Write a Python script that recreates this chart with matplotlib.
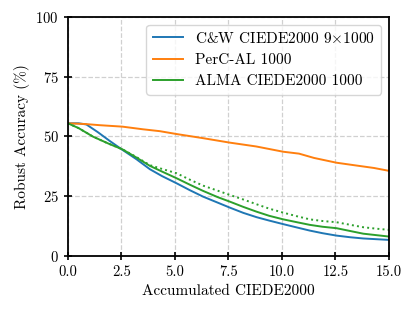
import numpy as np
import matplotlib
matplotlib.use("Agg")
import matplotlib.pyplot as plt

plt.rcParams['font.family'] = 'serif'
plt.rcParams['font.serif'] = ['cmr10']
plt.rcParams['mathtext.fontset'] = 'cm'
plt.rcParams['axes.formatter.use_mathtext'] = True
plt.rcParams['axes.unicode_minus'] = False

# values
cw_x = [0.0, 0.5, 0.87, 1.4, 1.96, 2.55, 3.2, 3.83, 4.4, 5.08, 5.7, 6.32, 7.0, 7.57, 8.2, 8.82, 9.4, 10.06, 10.7, 11.3, 11.9, 12.55, 13.2, 13.8, 14.4, 15.0]
cw_y = [55.5, 55.5, 55.0, 51.8, 48.1, 44.4, 40.5, 36.3, 33.4, 30.4, 27.5, 24.8, 22.3, 20.2, 18.0, 16.2, 14.8, 13.3, 11.9, 10.6, 9.5, 8.5, 7.8, 7.3, 7.0, 6.7]

perc_x = [0.0, 0.8, 1.5, 2.55, 3.5, 4.3, 5.08, 6.3, 7.57, 8.8, 10.06, 10.8, 11.5, 12.55, 13.5, 14.3, 15.0]
perc_y = [55.5, 55.2, 54.7, 54.1, 53.0, 52.2, 51.0, 49.3, 47.4, 45.8, 43.6, 42.8, 41.0, 39.0, 37.8, 36.8, 35.6]

alma_x = [0.0, 0.5, 1.18, 1.9, 2.55, 3.2, 3.83, 4.4, 5.08, 5.7, 6.32, 7.0, 7.57, 8.2, 8.82, 9.4, 10.06, 10.7, 11.3, 11.9, 12.55, 13.2, 13.8, 14.4, 15.0]
alma_y = [55.5, 53.5, 49.9, 47.0, 44.6, 41.2, 37.7, 35.3, 32.5, 29.8, 27.2, 24.6, 22.7, 20.5, 18.5, 16.8, 15.3, 14.1, 13.0, 12.2, 11.6, 10.4, 9.3, 8.7, 8.1]

alma_dot_x = [0.0, 0.5, 1.18, 1.9, 2.55, 3.2, 3.83, 4.4, 5.08, 5.7, 6.32, 7.0, 7.57, 8.2, 8.82, 9.4, 10.06, 10.7, 11.3, 11.9, 12.55, 13.2, 13.8, 14.4, 15.0]
alma_dot_y = [55.5, 53.5, 49.9, 47.0, 44.6, 41.4, 38.0, 36.4, 34.6, 31.9, 29.4, 27.3, 25.5, 23.6, 21.6, 19.8, 18.1, 16.6, 15.3, 14.6, 14.1, 13.0, 12.0, 11.4, 10.9]

fig = plt.figure(figsize=(4.16, 3.14), dpi=100)
ax = fig.add_axes([0.163, 0.185, 0.772, 0.761])

ax.plot(cw_x, cw_y, color='#1f77b4', lw=1.4, label='C&W CIEDE2000 9$\\times$1000')
ax.plot(perc_x, perc_y, color='#ff7f0e', lw=1.4, label='PerC-AL 1000')
ax.plot(alma_x, alma_y, color='#2ca02c', lw=1.4, label='ALMA CIEDE2000 1000')
ax.plot(alma_dot_x, alma_dot_y, color='#2ca02c', lw=1.4, ls=':')

ax.set_xlim(0, 15)
ax.set_ylim(0, 100)
ax.set_xticks(np.arange(0, 15.1, 2.5))
ax.set_yticks([0, 25, 50, 75, 100])
ax.set_xticklabels(['%.1f' % v for v in np.arange(0, 15.1, 2.5)])
ax.grid(True, ls='--', color='#d0d0d0', lw=0.9)
ax.tick_params(direction='inout', length=6, width=1.2, labelsize=10.5)
for s in ax.spines.values():
    s.set_linewidth(1.3)

ax.set_xlabel('Accumulated CIEDE2000', fontsize=11)
ax.set_ylabel('Robust Accuracy (%)', fontsize=11)
ax.legend(loc='upper right', fontsize=11, framealpha=0.8, handlelength=2.0)

fig.savefig('out.png', dpi=100)
